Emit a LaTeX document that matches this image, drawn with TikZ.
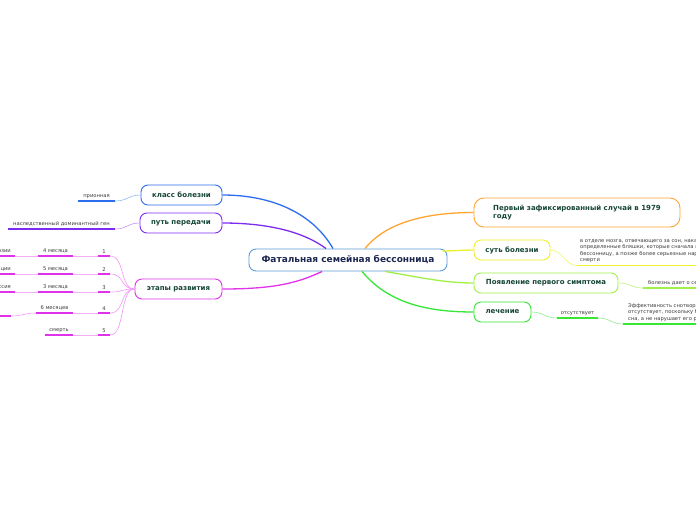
\documentclass[tikz,border=0pt]{standalone}
\usepackage{fontspec}
\setmainfont{DejaVu Sans}
\usepackage{xcolor}
\usepackage{tikz}
\usetikzlibrary{positioning}
\definecolor{rootB}{RGB}{91,155,213}
\definecolor{rootT}{RGB}{28,40,80}
\definecolor{topT}{RGB}{22,70,55}
\definecolor{leafT}{RGB}{60,60,60}
\definecolor{brBlue}{RGB}{45,110,240}
\definecolor{brPurp}{RGB}{125,45,240}
\definecolor{brMag}{RGB}{225,50,235}
\definecolor{brOra}{RGB}{255,165,50}
\definecolor{brYel}{RGB}{240,240,40}
\definecolor{brLime}{RGB}{160,240,70}
\definecolor{brGrn}{RGB}{55,230,55}

\begin{document}
\begin{tikzpicture}[
  x=1pt, y=-1pt,
  root/.style={draw=rootB, line width=0.9pt, rounded corners=7pt, fill=white, text=rootT, font=\bfseries\fontsize{9}{10}\selectfont, minimum height=22pt, inner sep=0pt},
  topic/.style={draw, line width=0.9pt, rounded corners=7pt, fill=white, text=topT, font=\bfseries\fontsize{7}{8.4}\selectfont, minimum height=20pt, inner sep=0pt},
  leaf/.style={text=leafT, font=\fontsize{5.2}{6.5}\selectfont, inner xsep=3pt, inner ysep=2.5pt, anchor=south},
  uline/.style={line width=1.6pt},
  twig/.style={line width=0.6pt},
  branch/.style={line width=1.3pt}
]
\useasboundingbox (0,0) rectangle (696,520);
\clip (0,0) rectangle (696,520);
\fill[white] (0,0) rectangle (696,520);

% centre and main topics
\node[root, minimum width=198pt] (root) at (348,260) {Фатальная семейная бессонница};
\node[topic, draw=brBlue, minimum width=81pt] (klass) at (181.5,195) {класс болезни};
\node[topic, draw=brPurp, minimum width=82pt] (put) at (181,223) {путь передачи};
\node[topic, draw=brMag, minimum width=87pt] (etapy) at (178.5,289) {этапы развития};
\node[topic, draw=brOra, minimum width=206pt, minimum height=29pt, rounded corners=10pt, align=left] (pervyj) at (577,212.5) {Первый зафиксированный случай в 1979\\году};
\node[topic, draw=brYel, minimum width=76pt] (sut) at (512,250) {суть болезни};
\node[topic, draw=brLime, minimum width=144pt] (simpt) at (546,283) {Появление первого симптома};
\node[topic, draw=brGrn, minimum width=57pt] (lech) at (502.5,312) {лечение};

% branches
\draw[branch, brBlue] ([xshift=-15pt]root.north) .. controls +(-20,-35) and +(50,0) .. (klass.east);
\draw[branch, brPurp] ([xshift=-22pt]root.north) .. controls +(-20,-15) and +(50,0) .. (put.east);
\draw[branch, brMag] ([xshift=-26pt]root.south) .. controls +(-25,12) and +(50,0) .. (etapy.east);
\draw[branch, brOra] ([xshift=17pt]root.north) .. controls +(20,-25) and +(-50,0) .. (pervyj.west);
\draw[branch, brYel] ([shift={(-5,-9)}]root.east) .. controls +(10,0) and +(-10,0) .. (sut.west);
\draw[branch, brLime] ([xshift=37pt]root.south) .. controls +(30,5) and +(-30,0) .. (simpt.west);
\draw[branch, brGrn] ([xshift=14pt]root.south) .. controls +(25,30) and +(-50,0) .. (lech.west);

% left leaves
\node[leaf, minimum width=37pt] (prion) at (96.5,201) {прионная};
\draw[uline, brBlue] (prion.south west) -- (prion.south east);
\draw[twig, brBlue!50] (klass.west) .. controls +(-12,0) and +(12,0) .. (prion.south east);

\node[leaf, minimum width=107pt] (gen) at (61.5,229) {наследственный доминантный ген};
\draw[uline, brPurp] (gen.south west) -- (gen.south east);
\draw[twig, brPurp!50] (put.west) .. controls +(-12,0) and +(12,0) .. (gen.south east);

% stages
\node[leaf, minimum width=12pt] (st1) at (104,256) {1};
\node[leaf, minimum width=12pt] (st2) at (104,274) {2};
\node[leaf, minimum width=12pt] (st3) at (104,292) {3};
\node[leaf, minimum width=12pt] (st4) at (104,313) {4};
\node[leaf, minimum width=12pt] (st5) at (104,335) {5};
\node[leaf, minimum width=35pt] (m1) at (55.5,256) {4 месяца};
\node[leaf, minimum width=35pt] (m2) at (55.5,274) {5 месяца};
\node[leaf, minimum width=35pt] (m3) at (55.5,292) {3 месяца};
\node[leaf, minimum width=37pt] (m4) at (54.5,313) {6 месяцев};
\node[leaf, minimum width=28pt] (m5) at (59,335) {смерть};
\node[leaf, anchor=south east, inner xsep=4pt] (d1) at (15,256) {бессонница, паника, иллюзии};
\node[leaf, anchor=south east, inner xsep=4pt] (d2) at (15,274) {панические атаки, галлюцинации};
\node[leaf, anchor=south east, inner xsep=4pt] (d3) at (15,292) {полная бессонница, депрессия};
\coordinate (d4) at (11,316);
\foreach \s in {st1,st2,st3,st4,st5,m1,m2,m3,m4,m5,d1,d2,d3}
  \draw[uline, brMag] (\s.south west) -- (\s.south east);
\draw[uline, brMag] (d4) -- ++(-30,0);
\foreach \s in {st1,st2,st3,st4,st5}
  \draw[twig, brMag!50] (etapy.west) .. controls +(-15,0) and +(15,0) .. (\s.south east);
\draw[twig, brMag!40] (st1.south west) -- (m1.south east);
\draw[twig, brMag!40] (st2.south west) -- (m2.south east);
\draw[twig, brMag!40] (st3.south west) -- (m3.south east);
\draw[twig, brMag!40] (st4.south west) -- (m4.south east);
\draw[twig, brMag!40] (st5.south west) -- (m5.south east);
\draw[twig, brMag!40] (m1.south west) -- (d1.south east);
\draw[twig, brMag!40] (m2.south west) -- (d2.south east);
\draw[twig, brMag!40] (m3.south west) -- (d3.south east);
\draw[twig, brMag!50] (m4.south west) .. controls +(-12,0) and +(12,0) .. (d4);

% right leaves
\node[leaf, anchor=south west, align=left] (sutTxt) at (577,265.5) {в отделе мозга, отвечающего за сон, накапливаются\\определенные бляшки, которые сначала вызывают\\бессонницу, а позже более серьезные нарушения вплоть до\\смерти};
\draw[uline, brYel] (sutTxt.south west) -- (sutTxt.south east);
\draw[twig, brYel!70] (sut.east) .. controls +(12,0) and +(-12,0) .. (sutTxt.south west);

\node[leaf, anchor=south west, inner xsep=5pt] (simptTxt) at (643,288) {болезнь дает о себе знать в среднем возрасте};
\draw[uline, brLime] (simptTxt.south west) -- (simptTxt.south east);
\draw[twig, brLime!70] (simpt.east) .. controls +(12,0) and +(-12,0) .. (simptTxt.south west);

\node[leaf, minimum width=41pt] (otsut) at (577.5,318) {отсутствует};
\draw[uline, brGrn] (otsut.south west) -- (otsut.south east);
\draw[twig, brGrn!60] (lech.east) .. controls +(12,0) and +(-12,0) .. (otsut.south west);

\node[leaf, anchor=south west, align=left, inner xsep=5pt] (effTxt) at (623,324) {Эффективность снотворных\\отсутствует, поскольку болезнь разрушает центр\\сна, а не нарушает его работу};
\draw[uline, brGrn] (effTxt.south west) -- (effTxt.south east);
\draw[twig, brGrn!60] (otsut.south east) .. controls +(12,0) and +(-12,0) .. (effTxt.south west);
\end{tikzpicture}
\end{document}
